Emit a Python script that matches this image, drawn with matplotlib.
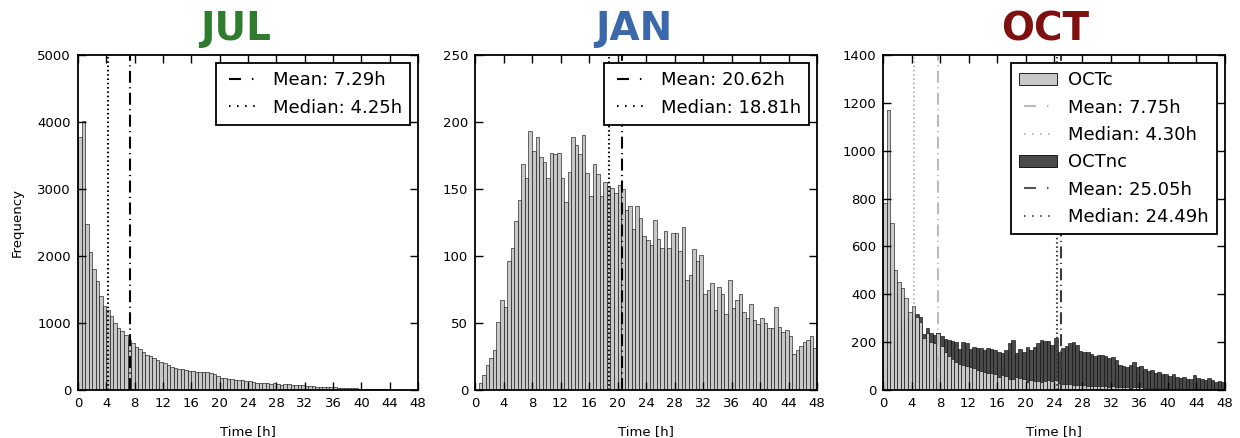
import numpy as np
import matplotlib
matplotlib.use('Agg')
import matplotlib.pyplot as plt
from matplotlib.patches import Patch
from matplotlib.lines import Line2D

# histogram bins: 0 .. 48 h, 0.5 h wide
edges = np.arange(0, 48, 0.5)

jul = [3770, 4020, 2480, 2060, 1810, 1630, 1410, 1260, 1200, 1100,
       1000, 930, 880, 820, 745, 700, 640, 605, 570, 525,
       510, 475, 450, 420, 400, 375, 345, 325, 315, 310,
       300, 290, 280, 265, 270, 268, 265, 255, 245, 210,
       180, 175, 170, 165, 155, 145, 150, 140, 140, 125,
       110, 105, 105, 100, 95, 100, 85, 80, 90, 85,
       75, 80, 70, 70, 60, 55, 55, 50, 50, 45,
       40, 40, 40, 35, 30, 30, 30, 25, 25, 20,
       15, 15, 10, 20, 15, 10, 8, 10, 8, 5,
       5, 4, 4, 3, 3, 3]

jan = [0, 5, 11, 19, 24, 30, 51, 67, 62, 96,
       106, 126, 142, 169, 158, 193, 178, 189, 174, 170,
       158, 177, 176, 177, 158, 140, 163, 189, 183, 176,
       190, 162, 145, 169, 161, 145, 155, 152, 151, 147,
       153, 150, 134, 137, 120, 137, 128, 115, 112, 108,
       127, 113, 106, 119, 106, 117, 117, 104, 122, 82,
       86, 105, 96, 101, 72, 75, 80, 60, 77, 72,
       57, 82, 61, 67, 72, 58, 54, 64, 52, 49,
       54, 50, 46, 46, 62, 47, 43, 45, 40, 27,
       30, 33, 36, 37, 40, 31]

oct_c = [780, 1170, 696, 501, 450, 425, 383, 327, 352, 304,
         283, 216, 240, 200, 195, 237, 182, 160, 140, 128,
         115, 110, 105, 100, 97, 90, 84, 80, 77, 72,
         70, 65, 56, 63, 58, 48, 45, 53, 50, 45,
         35, 40, 38, 36, 35, 38, 40, 36, 42, 30,
         25, 23, 25, 22, 21, 20, 21, 18, 18, 16,
         17, 15, 16, 14, 18, 13, 14, 12, 14, 10,
         13, 11, 14, 10, 9, 10, 8, 10, 8, 7,
         10, 6, 8, 7, 6, 7, 5, 6, 6, 5,
         6, 4, 5, 4, 4, 4]

oct_nc = [30, 80, 150, 200, 240, 270, 290, 300, 305, 318,
          303, 232, 260, 237, 230, 240, 225, 215, 210, 206,
          202, 170, 202, 198, 172, 181, 175, 175, 167, 175,
          170, 167, 160, 155, 167, 198, 209, 153, 170, 160,
          181, 167, 181, 195, 209, 206, 206, 190, 216, 160,
          175, 185, 195, 202, 190, 165, 160, 160, 150, 140,
          148, 145, 140, 135, 136, 125, 105, 100, 98, 105,
          115, 95, 100, 88, 80, 82, 70, 75, 65, 68,
          60, 65, 55, 50, 54, 45, 45, 62, 52, 45,
          40, 50, 40, 35, 38, 35]

jul_mean, jul_median = 7.29, 4.25
jan_mean, jan_median = 20.62, 18.81
octc_mean, octc_median = 7.75, 4.30
octnc_mean, octnc_median = 25.05, 24.49

plt.rcParams['font.family'] = 'DejaVu Sans'
plt.rcParams['lines.scale_dashes'] = False

# line patterns in the axes (pt)
DASHDOT = (0, (8.6, 3.2, 0.8, 3.2))
DOTTED = (0, (1.1, 2.0))
# shorter, sparser patterns for the legend handles
LEG_DASHDOT = (32.0, (8.6, 7.9, 1.1, 18.0))
LEG_DOTTED = (29.9, (1.1, 4.7, 1.1, 4.7, 1.1, 4.7, 1.1, 15.0))
LIGHT = '#c8c8c8'
DARK = '#4a4a4a'

fig = plt.figure(figsize=(12.4, 4.38), dpi=100)
ax1 = fig.add_axes([0.0629, 0.1096, 0.2742, 0.7648])
ax2 = fig.add_axes([0.3831, 0.1096, 0.2758, 0.7648])
ax3 = fig.add_axes([0.7121, 0.1096, 0.2758, 0.7648])


def style(ax, ymax, ystep):
    ax.set_xlim(0, 48)
    ax.set_ylim(0, ymax)
    ax.set_xticks(np.arange(0, 49, 4))
    ax.set_yticks(np.arange(0, ymax + 1, ystep))
    ax.tick_params(direction='in', top=True, right=True, length=6,
                   width=1, labelsize=9.5, pad=5)
    for s in ax.spines.values():
        s.set_linewidth(1.3)
    ax.set_xlabel('Time [h]', fontsize=9.5, labelpad=11)


def legend(ax, handles, labels):
    leg = ax.legend(handles, labels, loc='upper right', fontsize=13,
                    fancybox=False, handlelength=2.1, handletextpad=0.6,
                    borderpad=0.45, labelspacing=0.52, borderaxespad=0.45,
                    framealpha=1)
    leg.get_frame().set_edgecolor('black')
    leg.get_frame().set_linewidth(1.3)


def vlines(ax, mean, median, color):
    ax.axvline(mean, color=color, lw=1.5, linestyle=DASHDOT)
    ax.axvline(median, color=color, lw=1.5, linestyle=DOTTED)


def line_handles(color):
    return [Line2D([], [], color=color, lw=1.5, linestyle=LEG_DASHDOT),
            Line2D([], [], color=color, lw=1.5, linestyle=LEG_DOTTED)]


# JUL
ax1.bar(edges, jul, width=0.5, align='edge', color=LIGHT,
        edgecolor='black', linewidth=0.4)
vlines(ax1, jul_mean, jul_median, 'black')
style(ax1, 5000, 1000)
ax1.set_ylabel('Frequency', fontsize=9.5, labelpad=10)
ax1.set_title('JUL', fontsize=28, fontweight='bold', color='#2e7d2e',
              x=0.465, pad=10.5)
legend(ax1, line_handles('black'),
       ['Mean: %.2fh' % jul_mean, 'Median: %.2fh' % jul_median])

# JAN
ax2.bar(edges, jan, width=0.5, align='edge', color=LIGHT,
        edgecolor='black', linewidth=0.4)
vlines(ax2, jan_mean, jan_median, 'black')
style(ax2, 250, 50)
ax2.set_title('JAN', fontsize=28, fontweight='bold', color='#3a68aa',
              x=0.465, pad=10.5)
legend(ax2, line_handles('black'),
       ['Mean: %.2fh' % jan_mean, 'Median: %.2fh' % jan_median])

# OCT, non-closed behind closed
ax3.bar(edges, oct_nc, width=0.5, align='edge', color=DARK,
        edgecolor='black', linewidth=0.4)
ax3.bar(edges, oct_c, width=0.5, align='edge', color=LIGHT,
        edgecolor='black', linewidth=0.4)
vlines(ax3, octc_mean, octc_median, '#bbbbbb')
vlines(ax3, octnc_mean, octnc_median, '#3a3a3a')
style(ax3, 1400, 200)
ax3.set_title('OCT', fontsize=28, fontweight='bold', color='#7f1010',
              x=0.475, pad=10.5)
hc = line_handles('#bbbbbb')
hnc = line_handles('#555555')
legend(ax3,
       [Patch(facecolor=LIGHT, edgecolor='black', lw=0.6), hc[0], hc[1],
        Patch(facecolor=DARK, edgecolor='black', lw=0.6), hnc[0], hnc[1]],
       ['OCTc', 'Mean: %.2fh' % octc_mean, 'Median: %.2fh' % octc_median,
        'OCTnc', 'Mean: %.2fh' % octnc_mean, 'Median: %.2fh' % octnc_median])

fig.savefig('out.png', dpi=100)
